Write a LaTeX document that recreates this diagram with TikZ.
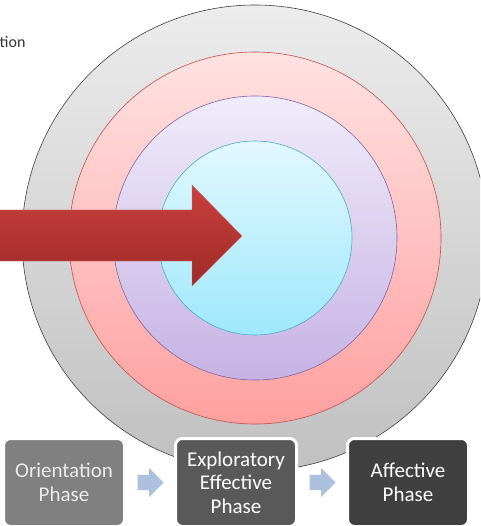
\documentclass[tikz,border=0pt]{standalone}
\usepackage{fontspec}
\setmainfont{Carlito}
\usetikzlibrary{shapes.arrows,positioning}
\definecolor{grayTop}{HTML}{ECECEC}
\definecolor{grayBot}{HTML}{C0C0C0}
\definecolor{redTop}{HTML}{FFE2E2}
\definecolor{redBot}{HTML}{FFA0A0}
\definecolor{redEdge}{HTML}{C0504D}
\definecolor{lilacTop}{HTML}{F0ECFA}
\definecolor{lilacBot}{HTML}{C6B2E4}
\definecolor{lilacEdge}{HTML}{8064A2}
\definecolor{aquaTop}{HTML}{E2F8FF}
\definecolor{aquaBot}{HTML}{9EE8FB}
\definecolor{aquaEdge}{HTML}{4BACC6}
\definecolor{arrowTop}{HTML}{C9403D}
\definecolor{arrowBot}{HTML}{9E2A28}
\definecolor{arrowEdge}{HTML}{D87070}
\definecolor{stepBlue}{HTML}{ADC0DE}
\tikzset{
  phasebox/.style={draw=white, line width=3pt, rounded corners=7pt,
    minimum width=121pt, minimum height=88pt, inner sep=0pt,
    align=center, font=\fontsize{21}{23.5}\selectfont},
  phasearrow/.style={single arrow, fill=stepBlue, draw=none, inner xsep=0pt,
    inner ysep=7.5pt, minimum height=26pt, single arrow head extend=7pt}
}

\begin{document}
\begin{tikzpicture}[x=1pt, y=-1pt]
      \clip (0, 0) rectangle (480, 526);
      \coordinate (c) at (255, 238);
      % rings, outside in
      \foreach \r/\ctop/\cbot/\cedge in {233/grayTop/grayBot/black!75,
          186/redTop/redBot/redEdge, 142/lilacTop/lilacBot/lilacEdge,
          97/aquaTop/aquaBot/aquaEdge}
        \shade [top color=\ctop, bottom color=\cbot, draw=\cedge, line width=0.6pt] (c) circle (\r pt);
      % big arrow
      \shade [top color=arrowTop, bottom color=arrowBot, draw=arrowEdge, thin]
        (-5, 210) -- (192, 210) -- (192, 185) -- (242, 236) -- (192, 286)
        -- (192, 261) -- (-5, 261) -- cycle;
      \node [anchor=base west, inner sep=0pt, text=black!80,
        font=\fontsize{16}{18}\selectfont] (label) at (-0.5, 48) {tion};
      % phases
      \node [phasebox, fill=black!50, text=white!92!black] (orient) at (64, 482.5) {Orientation\\Phase};
      \node [phasebox, fill=black!65, text=white, right=48pt of orient] (explore) {Exploratory\\Effective\\Phase};
      \node [phasebox, fill=black!75, text=white, right=48pt of explore] (affect) {Affective\\Phase};
      \node [phasearrow, right=11.5pt of orient] (stepA) {};
      \node [phasearrow, right=11.5pt of explore] (stepB) {};
      \node [phasearrow, right=11.5pt of affect] (stepC) {};
    \end{tikzpicture}
\end{document}
